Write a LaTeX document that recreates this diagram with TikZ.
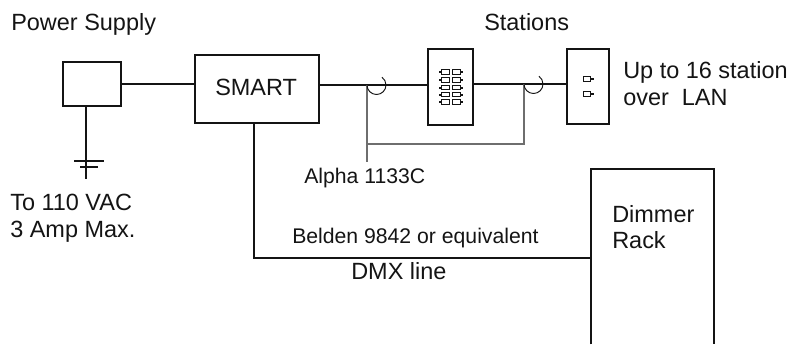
\documentclass[tikz,border=0pt]{standalone}
\usepackage{fontspec}
\setmainfont{Liberation Sans}
\usetikzlibrary{positioning}
\definecolor{linecol}{RGB}{20,20,20}
\definecolor{shieldcol}{RGB}{110,110,110}
\definecolor{labelcol}{RGB}{20,20,20}

\begin{document}
\begin{tikzpicture}[
  x=0.75pt, y=-0.75pt,
  unit/.style={
    draw=linecol, line width=1.8pt, fill=white, inner sep=0pt,
    minimum width=#1
  },
  wire/.style={draw=linecol, line width=2.2pt},
  thin wire/.style={draw=linecol, line width=1.9pt},
  shield/.style={draw=shieldcol, line width=1.2pt},
  hop/.style={draw=linecol, line width=0.7pt},
  key/.style={draw=linecol, line width=0.7pt, minimum width=5.8pt, minimum height=3.4pt, inner sep=0pt},
  big/.style={font=\fontsize{17.6}{20.25}\selectfont, text=labelcol, inner sep=0pt, align=left, anchor=base west},
  small/.style={font=\fontsize{15.9}{19}\selectfont, text=labelcol, inner sep=0pt, anchor=base west}
]
\useasboundingbox (0,0) rectangle (790,344);

%% ===================== Units =====================
\node[unit=43.5pt, minimum height=33pt, line width=2pt]     (psu)   at (92,84)    {};
\node[unit=93pt, minimum height=51pt, line width=2.1pt]     (smart) at (257,89)   {};
\node[unit=33.75pt, minimum height=57pt]                    (stnA)  at (450.5,87) {};
\node[unit=31.5pt, minimum height=56.25pt]                  (stnB)  at (588,86.5) {};
\node[inner sep=0pt, minimum width=92.25pt, minimum height=131.25pt] (rack) at (652.5,256.5) {};
% open at the foot: it runs off the page
\draw[draw=linecol, line width=1.7pt] (rack.south west) -- (rack.north west) -- (rack.north east) -- (rack.south east);

%% ===================== Station keys =====================
\foreach \row/\ypos in {1/72,2/80,3/87.5,4/94.5,5/102} {
  \node[key] (keyL\row) at (445.5,\ypos) {};
  \node[key] (keyR\row) at (456.5,\ypos) {};
  \fill[linecol] (keyL\row.west) ++(-2.5,-1) rectangle ++(2.5,2);
  \fill[linecol] (keyR\row.east) ++(0,-1) rectangle ++(2.5,2);
}
\node[key] (keyC1) at (587,79) {};
\node[key] (keyC2) at (587,94) {};
\fill[linecol] (keyC1.east) ++(0,-1) rectangle ++(3,2);
\fill[linecol] (keyC2.east) ++(0,-1) rectangle ++(3,2);

%% ===================== Wiring =====================
\coordinate (feed) at (0,84);
\coordinate (gndB) at (86,179);
\coordinate (gndA) at (74,161);
\coordinate (gndC) at (104,161);
\coordinate (gndD) at (80,167);
\coordinate (gndE) at (98,167);
\coordinate (hopA) at (367,85);
\coordinate (hopB) at (524,84);
\coordinate (tapA) at (367,144);
\coordinate (tapB) at (524,144);
\coordinate (tapE) at (367,162);
\coordinate (dmxC) at (254,258);

\draw[thin wire] (psu.east |- feed) -- (smart.west |- feed);
\draw[thin wire] (psu.south -| gndB) -- (gndB);
\draw[thin wire] (gndA) -- (gndC);
\draw[thin wire] (gndD) -- (gndE);
\draw[wire] (smart.east |- hopA) -- (stnA.west |- hopA);
\draw[wire] (stnA.east |- hopB) -- (stnB.west |- hopB);
\draw[thin wire] (smart.south -| dmxC) -- (dmxC) -- (rack.west |- dmxC);

%% ===================== Shield =====================
\draw[shield] (hopA) -- (tapE);
\draw[shield] (tapA) -- (tapB) -- (hopB);
\draw[hop] (hopA) arc[start angle=180, end angle=-55, radius=9.5];
\draw[hop] (hopB) arc[start angle=180, end angle=-55, radius=9.5];

%% ===================== Labels =====================
\node[big] (psuL)   at (11,30)   {Power Supply};
\node[big] (stnL)   at (484,30)  {Stations};
\node[big] (smartL) at (215,95)  {SMART};
\node[big] (upL)    at (623,78)  {Up to 16 station};
\node[big] (lanL)   at (623,105) {over\ \ LAN};
\node[big] (acL)    at (10,210)  {To 110 VAC};
\node[big] (ampL)   at (10,237)  {3 Amp Max.};
\node[big] (dimL)   at (612,222) {Dimmer};
\node[big] (rackL)  at (612,248) {Rack};
\node[small] (alphaL) at (304,183) {Alpha 1133C};
\node[small] (beldL)  at (292,243) {Belden 9842 or equivalent};
\node[big] (dmxL)   at (351,279) {DMX line};

\end{tikzpicture}
\end{document}
